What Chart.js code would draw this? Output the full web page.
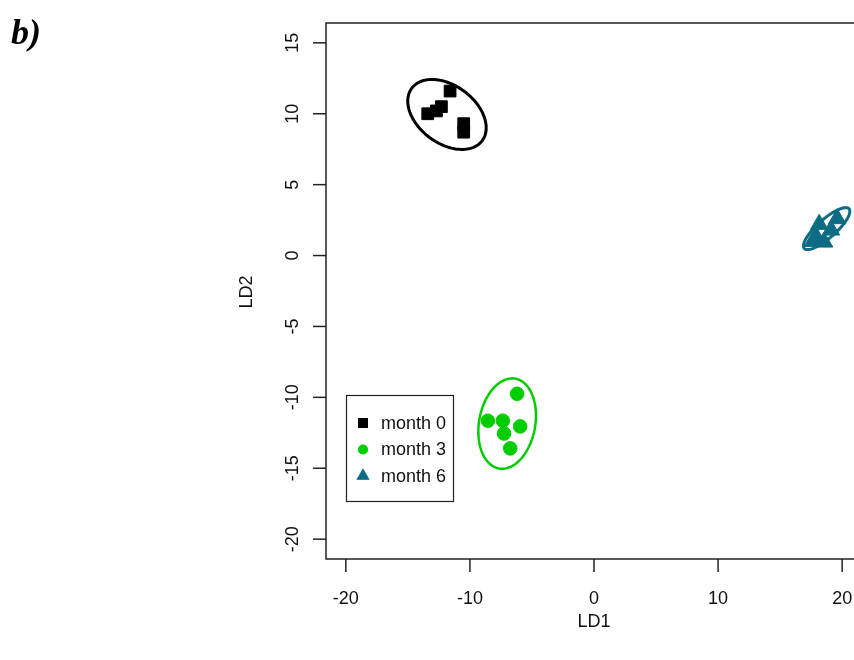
<!DOCTYPE html>
<html>
<head>
<meta charset="utf-8">
<script src="https://cdn.jsdelivr.net/npm/chart.js@4.4.1/dist/chart.umd.min.js"></script>
<style>
html, body { margin: 0; padding: 0; background: #fff; overflow: hidden; }
#wrap { width: 900px; height: 660px; }
</style>
</head>
<body>
<div id="wrap"><canvas id="ldaChart" width="900" height="660"></canvas></div>
<script>
// ======================================
// DATA
// ======================================
const groupNames = ["month 0", "month 3", "month 6"];
const groupColors = ["#000000", "#00cd00", "#0d6b84"];
const groupShapes = ["rect", "circle", "triangle"];

// LD scores per group
const month0LD1 = [-11.6, -12.3, -12.7, -13.4, -10.5, -10.5];
const month0LD2 = [11.6, 10.5, 10.2, 10.0, 9.3, 8.7];
const month3LD1 = [-6.2, -8.55, -7.35, -5.95, -7.25, -6.75];
const month3LD2 = [-9.75, -11.65, -11.65, -12.05, -12.55, -13.6];
const month6LD1 = [18.15, 19.6, 19.1, 17.9, 18.55, 17.65];
const month6LD2 = [2.2, 2.6, 1.8, 1.35, 0.95, 1.0];

// ellipses: centre + two semi-axis vectors (data units)
const ellipseCx = [-11.85, -7.0, 18.75];
const ellipseCy = [9.95, -11.85, 1.9];
const ellipseAx = [2.83, 0.65, 1.8];
const ellipseAy = [-1.86, 3.17, 1.4];
const ellipseBx = [-1.41, 2.23, 0.5];
const ellipseBy = [-1.62, -0.34, -0.48];

const xTicks = [-20, -10, 0, 10, 20];
const yTicks = [-20, -15, -10, -5, 0, 5, 10, 15];
const xLabel = "LD1";
const yLabel = "LD2";
const panelLabel = "b)";

const FONT = "18px 'Liberation Sans', Arial, sans-serif";

function toPoints(xs, ys) {
    return xs.map((x, i) => ({ x: x, y: ys[i] }));
}

const seriesX = [month0LD1, month3LD1, month6LD1];
const seriesY = [month0LD2, month3LD2, month6LD2];
const markerSize = [8.3, 6.8, 10];

const datasets = groupNames.map((name, i) => ({
    label: name,
    data: toPoints(seriesX[i], seriesY[i]),
    pointStyle: groupShapes[i],
    pointRadius: markerSize[i],
    pointHoverRadius: markerSize[i],
    backgroundColor: groupColors[i],
    borderColor: groupColors[i],
    borderWidth: 1
}));

// ======================================
// R-STYLE AXES, ELLIPSES, LEGEND
// ======================================
const rStylePlugin = {
    id: "rStyle",
    afterDatasetsDraw(chart) {
        const ctx = chart.ctx;
        const xs = chart.scales.x, ys = chart.scales.y;
        ctx.save();
        ellipseCx.forEach((cx, i) => {
            ctx.beginPath();
            for (let k = 0; k <= 120; k++) {
                const t = k / 120 * Math.PI * 2;
                const vx = cx + ellipseAx[i] * Math.cos(t) + ellipseBx[i] * Math.sin(t);
                const vy = ellipseCy[i] + ellipseAy[i] * Math.cos(t) + ellipseBy[i] * Math.sin(t);
                const px = xs.getPixelForValue(vx), py = ys.getPixelForValue(vy);
                if (k === 0) ctx.moveTo(px, py); else ctx.lineTo(px, py);
            }
            ctx.closePath();
            ctx.strokeStyle = groupColors[i];
            ctx.lineWidth = i === 1 ? 2.5 : 3;
            ctx.stroke();
        });
        ctx.restore();
    },
    afterDraw(chart) {
        const ctx = chart.ctx;
        const a = chart.chartArea;
        const xs = chart.scales.x, ys = chart.scales.y;
        ctx.save();
        ctx.strokeStyle = "#222";
        ctx.fillStyle = "#111";
        ctx.lineWidth = 1.5;

        // box
        ctx.strokeRect(a.left, a.top, a.right - a.left, a.bottom - a.top);

        // x ticks
        ctx.font = FONT;
        ctx.textAlign = "center";
        ctx.textBaseline = "middle";
        xTicks.forEach(v => {
            const px = xs.getPixelForValue(v);
            ctx.beginPath();
            ctx.moveTo(px, a.bottom);
            ctx.lineTo(px, a.bottom + 13);
            ctx.stroke();
            ctx.fillText(String(v), px, 599);
        });

        // y ticks (vertical labels)
        yTicks.forEach(v => {
            const py = ys.getPixelForValue(v);
            ctx.beginPath();
            ctx.moveTo(a.left, py);
            ctx.lineTo(a.left - 13, py);
            ctx.stroke();
            ctx.save();
            ctx.translate(293, py);
            ctx.rotate(-Math.PI / 2);
            ctx.fillText(String(v), 0, 0);
            ctx.restore();
        });

        // axis titles
        ctx.fillText(xLabel, 594, 622);
        ctx.save();
        ctx.translate(247, 292);
        ctx.rotate(-Math.PI / 2);
        ctx.fillText(yLabel, 0, 0);
        ctx.restore();

        // panel label
        ctx.font = "bold italic 36px 'Liberation Serif', 'Times New Roman', serif";
        ctx.textAlign = "left";
        ctx.textBaseline = "alphabetic";
        ctx.fillStyle = "#000";
        ctx.fillText(panelLabel, 11, 44);

        // legend
        ctx.lineWidth = 1.2;
        ctx.strokeStyle = "#222";
        ctx.strokeRect(346.5, 395.5, 107, 106);
        ctx.font = FONT;
        ctx.textBaseline = "middle";
        const legendMarker = [6.2, 4.5, 6.5];
        groupNames.forEach((name, i) => {
            const y = 423 + i * 26.5;
            ctx.fillStyle = groupColors[i];
            ctx.strokeStyle = groupColors[i];
            Chart.helpers.drawPoint(ctx, {
                pointStyle: groupShapes[i],
                radius: legendMarker[i],
                rotation: 0,
                borderWidth: 1
            }, 363, y);
            ctx.fillStyle = "#111";
            ctx.fillText(name, 381, y + 1);
        });
        ctx.restore();
    }
};

// ======================================
// CHART
// ======================================
const ctx = document.getElementById("ldaChart").getContext("2d");
new Chart(ctx, {
    type: "scatter",
    data: { datasets: datasets },
    options: {
        responsive: false,
        animation: false,
        devicePixelRatio: 1,
        layout: { padding: { left: 326, top: 23, right: 38, bottom: 101 } },
        scales: {
            x: { type: "linear", min: -21.6, max: 21.6, display: false },
            y: { type: "linear", min: -21.4, max: 16.4, display: false }
        },
        plugins: {
            legend: { display: false },
            tooltip: { enabled: false }
        }
    },
    plugins: [rStylePlugin]
});
</script>
</body>
</html>
